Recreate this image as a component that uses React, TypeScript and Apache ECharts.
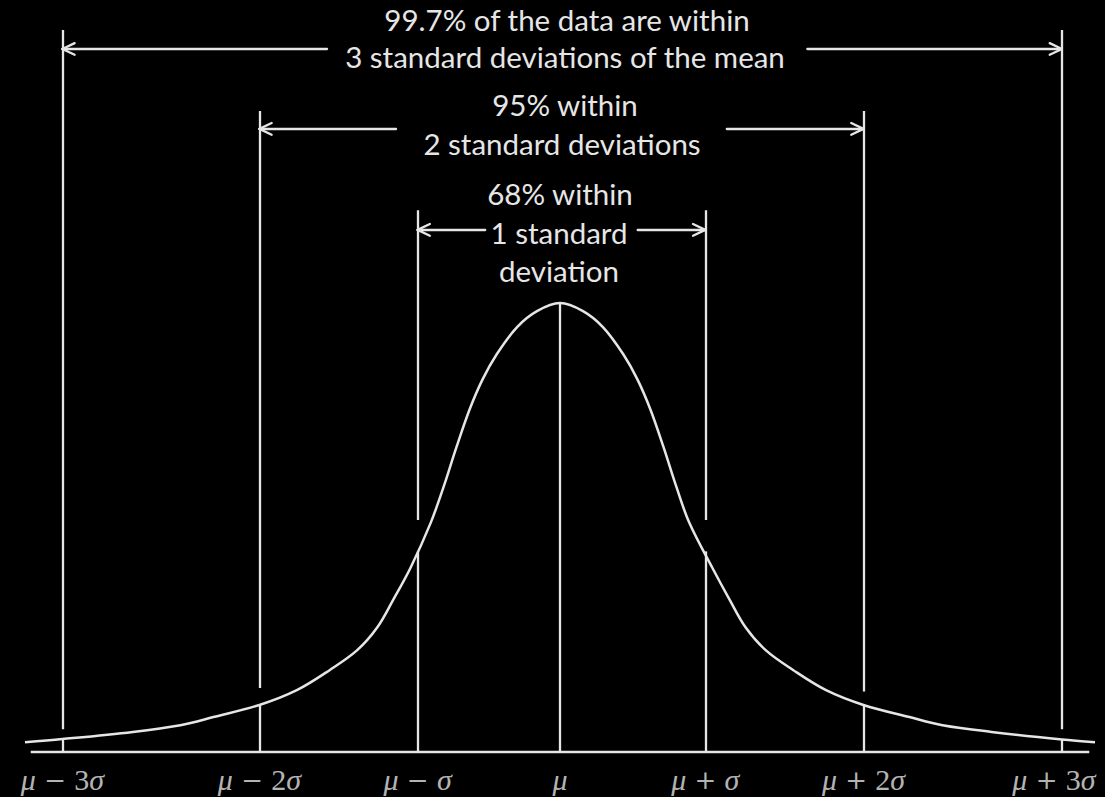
import React, { useEffect, useRef } from "react";
import * as echarts from "echarts";

// Positions (in σ-ish drawing units) where the reference draws each marker
const markerX = [-3.46, -2.09, -0.99, 0, 1.01, 2.11, 3.49];
// Tick label pieces: italic μ, operator, upright digit, italic σ
const labelOp = ["−", "−", "−", "", "+", "+", "+"];
const labelDigit = ["3", "2", "", "", "", "2", "3"];
const labelSigma = ["σ", "σ", "σ", "", "σ", "σ", "σ"];

// Bell curve (height relative to peak = 1)
const curveX = [
  -3.72, -3.46, -2.97, -2.64, -2.41, -2.09, -1.83, -1.6, -1.41, -1.27, -1.16, -1.04,
  -0.9, -0.81, -0.72, -0.63, -0.54, -0.44, -0.3, -0.16, 0,
  0.16, 0.3, 0.44, 0.54, 0.63, 0.72, 0.81, 0.9, 1.06, 1.18, 1.29, 1.43, 1.62,
  1.85, 2.11, 2.43, 2.66, 3.0, 3.49, 3.72,
];
const curveY = [
  0.022, 0.029, 0.045, 0.06, 0.078, 0.105, 0.138, 0.183, 0.227, 0.278, 0.339, 0.41,
  0.51, 0.59, 0.679, 0.762, 0.829, 0.886, 0.946, 0.982, 1,
  0.982, 0.946, 0.886, 0.829, 0.762, 0.679, 0.59, 0.51, 0.41, 0.339, 0.278,
  0.227, 0.183, 0.138, 0.105, 0.078, 0.06, 0.045, 0.028, 0.022,
];

// Vertical marker lines: top of upper part, end of upper part (gap), curve height
const markerTop = [1.608, 1.428, 1.207, 0, 1.207, 1.428, 1.608];
const markerGapEnd = [0.051, 0.143, 0.517, 0, 0.517, 0.135, 0.051];
const markerCurveY = [0.029, 0.105, 0.447, 1.0, 0.447, 0.105, 0.028];

// Arrows: height, inner left end, inner right end (for 3σ, 2σ, 1σ)
const arrowY = [1.566, 1.388, 1.163];
const arrowInnerLeft = [-1.62, -1.14, -0.52];
const arrowInnerRight = [1.72, 1.16, 0.54];
const arrowOuterLeft = [markerX[0], markerX[1], markerX[2]];
const arrowOuterRight = [markerX[6], markerX[5], markerX[4]];
// Arrowhead size in axis units (length along x, half-spread along y)
const headLen = 0.085;
const headSpread = 0.013;

const baselineX = [-3.68, 3.68];

const titleLines = [
  "99.7% of the data are within",
  "3 standard deviations of the mean",
  "95% within",
  "2 standard deviations",
  "68% within",
  "1 standard",
  "deviation",
];

const FG = "#e6e6e6";

export default function App() {
  const ref = useRef<HTMLDivElement>(null);

  useEffect(() => {
    if (!ref.current) return;
    const chart = echarts.init(ref.current, null, { renderer: "svg" });

    const verticalSegs: any[] = [];
    markerX.forEach((x, i) => {
      if (markerTop[i] > 0) {
        verticalSegs.push([{ coord: [x, markerTop[i]] }, { coord: [x, markerGapEnd[i]] }]);
      }
      verticalSegs.push([{ coord: [x, markerCurveY[i]] }, { coord: [x, 0] }]);
    });

    const arrowSegs: any[] = [];
    arrowY.forEach((y, i) => {
      const l = arrowOuterLeft[i];
      const r = arrowOuterRight[i];
      arrowSegs.push([{ coord: [arrowInnerLeft[i], y] }, { coord: [l, y] }]);
      arrowSegs.push([{ coord: [l + headLen, y + headSpread] }, { coord: [l, y] }]);
      arrowSegs.push([{ coord: [l + headLen, y - headSpread] }, { coord: [l, y] }]);
      arrowSegs.push([{ coord: [arrowInnerRight[i], y] }, { coord: [r, y] }]);
      arrowSegs.push([{ coord: [r - headLen, y + headSpread] }, { coord: [r, y] }]);
      arrowSegs.push([{ coord: [r - headLen, y - headSpread] }, { coord: [r, y] }]);
    });

    const titleTops = [19, 56, 104, 143, 193, 232, 270];
    const titleCx = [567, 565, 565, 562, 560, 559, 559];

    const tickLabel = (i: number) => {
      let s = "{i|μ}";
      if (labelOp[i]) s += `{o| ${labelOp[i]} }`;
      if (labelDigit[i]) s += `{n|${labelDigit[i]}}`;
      if (labelSigma[i]) s += `{i|${labelSigma[i]}}`;
      return s;
    };

    chart.setOption({
      animation: false,
      backgroundColor: "#000000",
      grid: { left: 25, right: 10, top: 0, bottom: 0 },
      xAxis: { type: "value", min: -3.72, max: 3.72, show: false },
      yAxis: { type: "value", min: -0.1, max: 1.675, show: false },
      series: [
        {
          type: "line",
          data: curveX.map((x, i) => [x, curveY[i]]),
          smooth: 0.35,
          showSymbol: false,
          lineStyle: { color: FG, width: 2.5 },
          z: 3,
        },
        {
          type: "line",
          data: [],
          markLine: {
            silent: true,
            symbol: ["none", "none"],
            label: { show: false },
            lineStyle: { color: FG, width: 2.3, type: "solid" },
            data: [
              ...verticalSegs,
              [{ coord: [baselineX[0], 0] }, { coord: [baselineX[1], 0] }],
            ],
          },
        },
        {
          type: "line",
          data: [],
          markLine: {
            silent: true,
            symbol: ["none", "none"],
            label: { show: false },
            lineStyle: { color: FG, width: 2.3, type: "solid", cap: "round" },
            data: arrowSegs,
          },
        },
        {
          type: "scatter",
          symbolSize: 0,
          silent: true,
          data: markerX.map((x, i) => ({
            value: [x, -0.062],
            label: {
              formatter: tickLabel(i),
              offset: i === markerX.length - 1 ? [-8, 0] : [0, 0],
            },
          })),
          label: {
            show: true,
            position: "inside",
            color: FG,
            rich: {
              i: {
                fontFamily: "Liberation Serif",
                fontStyle: "italic",
                fontSize: 30,
                color: FG,
              },
              o: {
                fontFamily: "DejaVu Serif",
                fontSize: 26,
                color: FG,
              },
              n: {
                fontFamily: "Liberation Serif",
                fontSize: 30,
                color: FG,
              },
            },
          },
        },
      ],
      graphic: titleLines.map((t, i) => ({
        type: "text",
        x: titleCx[i],
        y: titleTops[i],
        style: {
          text: t,
          fill: FG,
          font: "29.5px Lato",
          align: "center",
          verticalAlign: "middle",
        },
      })),
    });

    return () => chart.dispose();
  }, []);

  return (
    <div
      ref={ref}
      style={{ position: "fixed", left: 0, top: 0, width: 1105, height: 797 }}
    />
  );
}
